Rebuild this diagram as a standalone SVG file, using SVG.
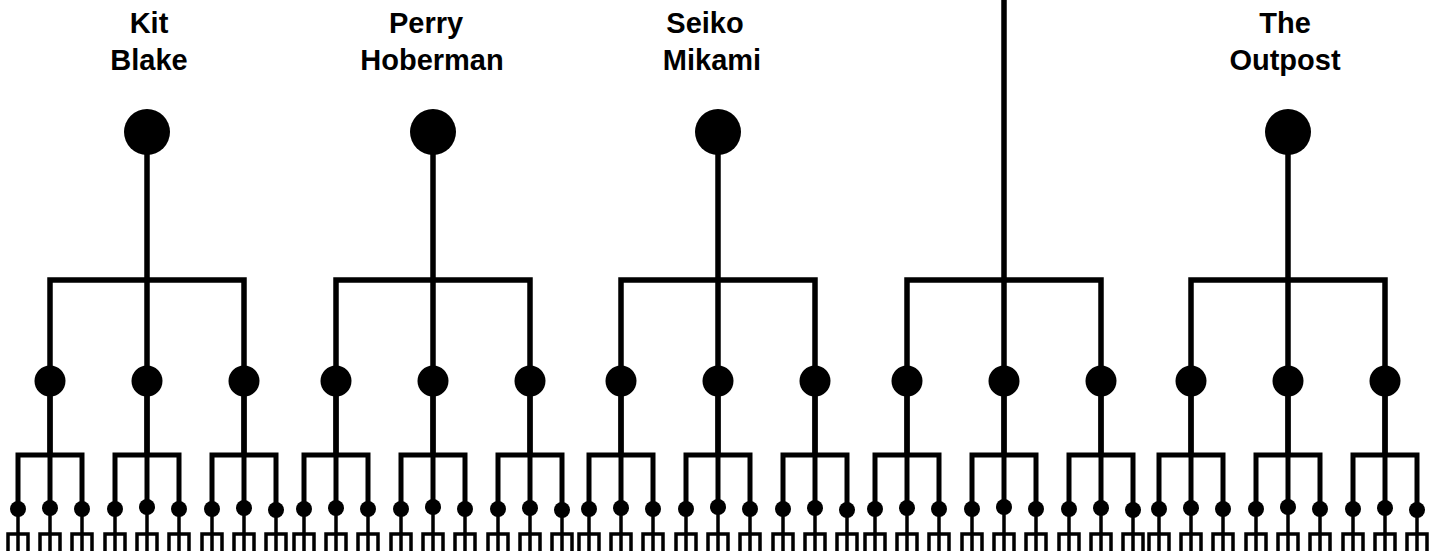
<svg xmlns="http://www.w3.org/2000/svg" xmlns:xlink="http://www.w3.org/1999/xlink" width="1438" height="551" viewBox="0 0 1438 551">
<style>
.lbl{font-family:"Liberation Sans",Arial,sans-serif;font-weight:bold;font-size:29px;fill:#000;text-anchor:middle}
.tl{fill:none;stroke:#000;stroke-width:5.5;stroke-linejoin:miter;stroke-linecap:butt}
.gl{fill:none;stroke:#000;stroke-width:5;stroke-linejoin:miter}
.fk{fill:none;stroke:#000;stroke-width:3.5;stroke-linejoin:miter}
.big{fill:#000}
.mid{fill:#000}
.sm{fill:#000}
</style>
<defs>
<path id="grp" d="M-32 128 V74 H32 V128 M0 0 V128"/>
<path id="fork" d="M0 0 V42 M-10 42 V25 H10 V42"/>
</defs>
<rect width="1438" height="551" fill="#fff"/>
<g id="connectors">
<g id="tree-lines">
<path class="tl" d="M147 132 V455 M50 455 V280 H244 V455"/>
<path class="tl" d="M433 132 V455 M336 455 V280 H530 V455"/>
<path class="tl" d="M718 132 V455 M621 455 V280 H815 V455"/>
<path class="tl" d="M1004 0 V455 M907 455 V280 H1101 V455"/>
<path class="tl" d="M1288 132 V455 M1191 455 V280 H1385 V455"/>
</g>
<g id="group-lines" class="gl">
<use xlink:href="#grp" x="50" y="381"/><use xlink:href="#grp" x="147" y="381"/><use xlink:href="#grp" x="244" y="381"/>
<use xlink:href="#grp" x="336" y="381"/><use xlink:href="#grp" x="433" y="381"/><use xlink:href="#grp" x="530" y="381"/>
<use xlink:href="#grp" x="621" y="381"/><use xlink:href="#grp" x="718" y="381"/><use xlink:href="#grp" x="815" y="381"/>
<use xlink:href="#grp" x="907" y="381"/><use xlink:href="#grp" x="1004" y="381"/><use xlink:href="#grp" x="1101" y="381"/>
<use xlink:href="#grp" x="1191" y="381"/><use xlink:href="#grp" x="1288" y="381"/><use xlink:href="#grp" x="1385" y="381"/>
</g>
<g id="forks" class="fk">
<use xlink:href="#fork" x="18" y="509"/><use xlink:href="#fork" x="50" y="509"/><use xlink:href="#fork" x="82" y="509"/>
<use xlink:href="#fork" x="115" y="509"/><use xlink:href="#fork" x="147" y="509"/><use xlink:href="#fork" x="179" y="509"/>
<use xlink:href="#fork" x="212" y="509"/><use xlink:href="#fork" x="244" y="509"/><use xlink:href="#fork" x="276" y="509"/>
<use xlink:href="#fork" x="304" y="509"/><use xlink:href="#fork" x="336" y="509"/><use xlink:href="#fork" x="368" y="509"/>
<use xlink:href="#fork" x="401" y="509"/><use xlink:href="#fork" x="433" y="509"/><use xlink:href="#fork" x="465" y="509"/>
<use xlink:href="#fork" x="498" y="509"/><use xlink:href="#fork" x="530" y="509"/><use xlink:href="#fork" x="562" y="509"/>
<use xlink:href="#fork" x="589" y="509"/><use xlink:href="#fork" x="621" y="509"/><use xlink:href="#fork" x="653" y="509"/>
<use xlink:href="#fork" x="686" y="509"/><use xlink:href="#fork" x="718" y="509"/><use xlink:href="#fork" x="750" y="509"/>
<use xlink:href="#fork" x="783" y="509"/><use xlink:href="#fork" x="815" y="509"/><use xlink:href="#fork" x="847" y="509"/>
<use xlink:href="#fork" x="875" y="509"/><use xlink:href="#fork" x="907" y="509"/><use xlink:href="#fork" x="939" y="509"/>
<use xlink:href="#fork" x="972" y="509"/><use xlink:href="#fork" x="1004" y="509"/><use xlink:href="#fork" x="1036" y="509"/>
<use xlink:href="#fork" x="1069" y="509"/><use xlink:href="#fork" x="1101" y="509"/><use xlink:href="#fork" x="1133" y="509"/>
<use xlink:href="#fork" x="1159" y="509"/><use xlink:href="#fork" x="1191" y="509"/><use xlink:href="#fork" x="1223" y="509"/>
<use xlink:href="#fork" x="1256" y="509"/><use xlink:href="#fork" x="1288" y="509"/><use xlink:href="#fork" x="1320" y="509"/>
<use xlink:href="#fork" x="1353" y="509"/><use xlink:href="#fork" x="1385" y="509"/><use xlink:href="#fork" x="1417" y="509"/>
</g>
</g>
<g id="root-kit-blake"><circle class="big" cx="147" cy="132" r="23"/><text class="lbl" x="149" y="33">Kit</text><text class="lbl" x="149" y="70">Blake</text></g>
<g id="root-perry-hoberman"><circle class="big" cx="433" cy="132" r="23"/><text class="lbl" x="426" y="33">Perry</text><text class="lbl" x="432" y="70">Hoberman</text></g>
<g id="root-seiko-mikami"><circle class="big" cx="718" cy="132" r="23"/><text class="lbl" x="705" y="33">Seiko</text><text class="lbl" x="712" y="70">Mikami</text></g>
<g id="root-the-outpost"><circle class="big" cx="1288" cy="132" r="23"/><text class="lbl" x="1285" y="33">The</text><text class="lbl" x="1285" y="70">Outpost</text></g>
<g id="mid-nodes">
<g id="m1a"><circle class="mid" cx="50" cy="381" r="15.5"/></g><g id="m1b"><circle class="mid" cx="147" cy="381" r="15.5"/></g><g id="m1c"><circle class="mid" cx="244" cy="381" r="15.5"/></g>
<g id="m2a"><circle class="mid" cx="336" cy="381" r="15.5"/></g><g id="m2b"><circle class="mid" cx="433" cy="381" r="15.5"/></g><g id="m2c"><circle class="mid" cx="530" cy="381" r="15.5"/></g>
<g id="m3a"><circle class="mid" cx="621" cy="381" r="15.5"/></g><g id="m3b"><circle class="mid" cx="718" cy="381" r="15.5"/></g><g id="m3c"><circle class="mid" cx="815" cy="381" r="15.5"/></g>
<g id="m4a"><circle class="mid" cx="907" cy="381" r="15.5"/></g><g id="m4b"><circle class="mid" cx="1004" cy="381" r="15.5"/></g><g id="m4c"><circle class="mid" cx="1101" cy="381" r="15.5"/></g>
<g id="m5a"><circle class="mid" cx="1191" cy="381" r="15.5"/></g><g id="m5b"><circle class="mid" cx="1288" cy="381" r="15.5"/></g><g id="m5c"><circle class="mid" cx="1385" cy="381" r="15.5"/></g>
</g>
<g id="small-nodes">
<g id="s1a1"><circle class="sm" cx="18" cy="509" r="8"/></g><g id="s1a2"><circle class="sm" cx="50" cy="508" r="8"/></g><g id="s1a3"><circle class="sm" cx="82" cy="509" r="8"/></g>
<g id="s1b1"><circle class="sm" cx="115" cy="509" r="8"/></g><g id="s1b2"><circle class="sm" cx="147" cy="507" r="8"/></g><g id="s1b3"><circle class="sm" cx="179" cy="509" r="8"/></g>
<g id="s1c1"><circle class="sm" cx="212" cy="509" r="8"/></g><g id="s1c2"><circle class="sm" cx="244" cy="508" r="8"/></g><g id="s1c3"><circle class="sm" cx="276" cy="510" r="8"/></g>
<g id="s2a1"><circle class="sm" cx="304" cy="509" r="8"/></g><g id="s2a2"><circle class="sm" cx="336" cy="508" r="8"/></g><g id="s2a3"><circle class="sm" cx="368" cy="509" r="8"/></g>
<g id="s2b1"><circle class="sm" cx="401" cy="509" r="8"/></g><g id="s2b2"><circle class="sm" cx="433" cy="507" r="8"/></g><g id="s2b3"><circle class="sm" cx="465" cy="509" r="8"/></g>
<g id="s2c1"><circle class="sm" cx="498" cy="509" r="8"/></g><g id="s2c2"><circle class="sm" cx="530" cy="508" r="8"/></g><g id="s2c3"><circle class="sm" cx="562" cy="510" r="8"/></g>
<g id="s3a1"><circle class="sm" cx="589" cy="509" r="8"/></g><g id="s3a2"><circle class="sm" cx="621" cy="508" r="8"/></g><g id="s3a3"><circle class="sm" cx="653" cy="509" r="8"/></g>
<g id="s3b1"><circle class="sm" cx="686" cy="509" r="8"/></g><g id="s3b2"><circle class="sm" cx="718" cy="507" r="8"/></g><g id="s3b3"><circle class="sm" cx="750" cy="509" r="8"/></g>
<g id="s3c1"><circle class="sm" cx="783" cy="509" r="8"/></g><g id="s3c2"><circle class="sm" cx="815" cy="508" r="8"/></g><g id="s3c3"><circle class="sm" cx="847" cy="510" r="8"/></g>
<g id="s4a1"><circle class="sm" cx="875" cy="509" r="8"/></g><g id="s4a2"><circle class="sm" cx="907" cy="508" r="8"/></g><g id="s4a3"><circle class="sm" cx="939" cy="509" r="8"/></g>
<g id="s4b1"><circle class="sm" cx="972" cy="509" r="8"/></g><g id="s4b2"><circle class="sm" cx="1004" cy="507" r="8"/></g><g id="s4b3"><circle class="sm" cx="1036" cy="509" r="8"/></g>
<g id="s4c1"><circle class="sm" cx="1069" cy="509" r="8"/></g><g id="s4c2"><circle class="sm" cx="1101" cy="508" r="8"/></g><g id="s4c3"><circle class="sm" cx="1133" cy="510" r="8"/></g>
<g id="s5a1"><circle class="sm" cx="1159" cy="509" r="8"/></g><g id="s5a2"><circle class="sm" cx="1191" cy="508" r="8"/></g><g id="s5a3"><circle class="sm" cx="1223" cy="509" r="8"/></g>
<g id="s5b1"><circle class="sm" cx="1256" cy="509" r="8"/></g><g id="s5b2"><circle class="sm" cx="1288" cy="507" r="8"/></g><g id="s5b3"><circle class="sm" cx="1320" cy="509" r="8"/></g>
<g id="s5c1"><circle class="sm" cx="1353" cy="509" r="8"/></g><g id="s5c2"><circle class="sm" cx="1385" cy="508" r="8"/></g><g id="s5c3"><circle class="sm" cx="1417" cy="510" r="8"/></g>
</g>
</svg>
